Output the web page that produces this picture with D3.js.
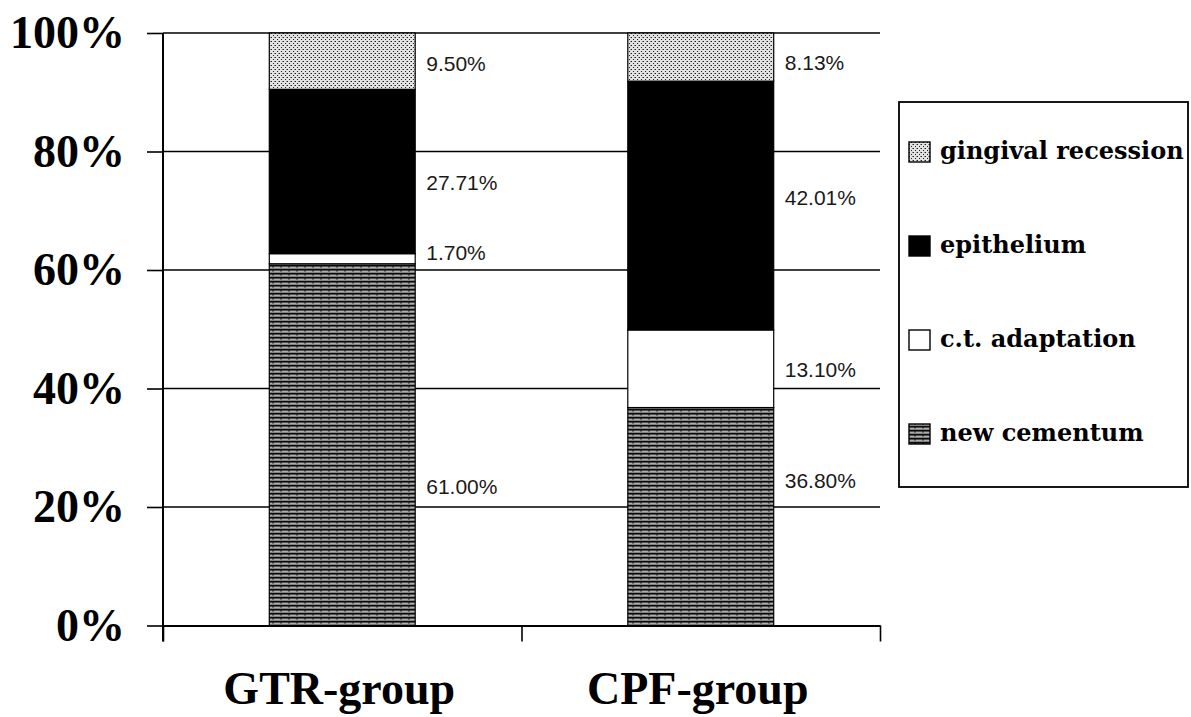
<!DOCTYPE html>
<html>
<head>
<meta charset="utf-8">
<script src="https://cdnjs.cloudflare.com/ajax/libs/d3/7.8.5/d3.min.js"></script>
<style>
  body { margin: 0; background: #fff; }
  .tick-label { font-family: 'Liberation Serif', 'Times New Roman', serif; font-weight: bold; font-size: 46px; fill: #000; }
  .value-label { font-family: 'Liberation Sans', Arial, sans-serif; font-size: 21px; fill: #1a1a1a; }
  .legend-label { font-family: 'DejaVu Serif', serif; font-weight: bold; font-size: 24px; fill: #000; }
</style>
</head>
<body>
<div id="chart"></div>
<script>
// data
const groups = ['GTR-group', 'CPF-group'];
const seriesNames = ['new cementum', 'c.t. adaptation', 'epithelium', 'gingival recession'];
const newCementum = [61.00, 36.80];
const ctAdaptation = [1.70, 13.10];
const epithelium = [27.71, 42.01];
const gingivalRecession = [9.50, 8.13];
const yTicks = [0, 0.2, 0.4, 0.6, 0.8, 1];

const rows = groups.map((g, i) => ({
    group: g,
    'new cementum': newCementum[i],
    'c.t. adaptation': ctAdaptation[i],
    'epithelium': epithelium[i],
    'gingival recession': gingivalRecession[i]
}));

// canvas
const svgWidth = 1191;
const svgHeight = 717;
const margin = {top: 33, left: 163};
const width = 717;
const height = 592.5;

const svg = d3.select('#chart').append('svg')
    .attr('width', svgWidth).attr('height', svgHeight);

// fill patterns, roughly like the printed hatching
const defs = svg.append('defs');

const dots = defs.append('pattern').attr('id', 'pat-gingival')
    .attr('width', 4).attr('height', 4).attr('patternUnits', 'userSpaceOnUse');
dots.append('rect').attr('width', 4).attr('height', 4).attr('fill', '#e2e2e2');
dots.append('rect').attr('x', 0).attr('y', 0).attr('width', 1).attr('height', 1).attr('fill', '#222');
dots.append('rect').attr('x', 2).attr('y', 2).attr('width', 1).attr('height', 1).attr('fill', '#222');
dots.append('rect').attr('x', 3).attr('y', 0).attr('width', 1).attr('height', 1).attr('fill', '#888');

const stripes = defs.append('pattern').attr('id', 'pat-cementum')
    .attr('width', 8).attr('height', 4).attr('patternUnits', 'userSpaceOnUse');
stripes.append('rect').attr('width', 8).attr('height', 4).attr('fill', '#6f6f6f');
stripes.append('rect').attr('y', 0).attr('width', 8).attr('height', 1.3).attr('fill', '#0a0a0a');
stripes.append('rect').attr('y', 2.4).attr('width', 8).attr('height', 0.8).attr('fill', '#d8d8d8');
stripes.append('rect').attr('x', 5).attr('y', 1.3).attr('width', 2).attr('height', 1.1).attr('fill', '#222');

const fills = {
    'new cementum': 'url(#pat-cementum)',
    'c.t. adaptation': '#fff',
    'epithelium': '#000',
    'gingival recession': 'url(#pat-gingival)'
};

const chart = svg.append('g').attr('transform', `translate(${margin.left}, ${margin.top})`);

// scales
const x = d3.scaleBand().domain(groups).range([0, width])
    .paddingInner(0.593).paddingOuter(0.2965);
const xEdges = d3.scaleLinear().domain([0, groups.length]).range([0, width]);
const y = d3.scaleLinear().domain([0, 1]).range([height, 0]);

const stacked = d3.stack().keys(seriesNames).offset(d3.stackOffsetExpand)(rows);

// gridlines
chart.append('g').selectAll('line')
    .data(yTicks.filter(d => d > 0)).enter()
    .append('line')
    .attr('x1', 0).attr('x2', width)
    .attr('y1', d => y(d)).attr('y2', d => y(d))
    .attr('stroke', '#000').attr('stroke-width', 1.6);

// bars
const layers = chart.append('g').selectAll('g')
    .data(stacked).enter()
    .append('g')
    .attr('fill', d => fills[d.key]);

layers.selectAll('rect')
    .data(d => d).enter()
    .append('rect')
    .attr('x', d => x(d.data.group))
    .attr('width', x.bandwidth())
    .attr('y', d => y(d[1]))
    .attr('height', d => y(d[0]) - y(d[1]))
    .attr('stroke', '#000').attr('stroke-width', 1.2);

// value labels beside the bars, a few nudged like in the original
const nudge = {
    'GTR-group|new cementum': 42, 'GTR-group|c.t. adaptation': -6,
    'GTR-group|epithelium': 11, 'GTR-group|gingival recession': 2,
    'CPF-group|new cementum': -36, 'CPF-group|c.t. adaptation': 1,
    'CPF-group|epithelium': -8, 'CPF-group|gingival recession': 5
};
stacked.forEach(layer => {
    chart.append('g').selectAll('text')
        .data(layer).enter()
        .append('text')
        .attr('class', 'value-label')
        .attr('x', d => x(d.data.group) + x.bandwidth() + 11)
        .attr('y', d => (y(d[0]) + y(d[1])) / 2 + nudge[d.data.group + '|' + layer.key])
        .attr('dy', '0.36em')
        .text(d => d.data[layer.key].toFixed(2) + '%');
});

// y axis
const yAxis = chart.append('g')
    .call(d3.axisLeft(y).tickValues(yTicks).tickSize(16).tickSizeOuter(0)
        .tickPadding(22).tickFormat(d3.format('.0%')));
yAxis.select('.domain').remove();
yAxis.selectAll('.tick line').attr('stroke', '#000').attr('stroke-width', 1.6);
yAxis.selectAll('.tick text').attr('class', 'tick-label').attr('font-size', null).attr('font-family', null);
chart.append('line')
    .attr('x1', 0).attr('x2', 0).attr('y1', y(1)).attr('y2', height + 16)
    .attr('stroke', '#000').attr('stroke-width', 2);

// x axis, ticks on the category edges
const xAxis = chart.append('g')
    .attr('transform', `translate(0, ${height})`)
    .call(d3.axisBottom(xEdges).tickValues(d3.range(groups.length + 1))
        .tickSize(16).tickSizeOuter(0).tickFormat(''));
xAxis.select('.domain').attr('stroke', '#000').attr('stroke-width', 2);
xAxis.selectAll('.tick line').attr('stroke', '#000').attr('stroke-width', 1.6);

chart.append('g').selectAll('text')
    .data(groups).enter()
    .append('text')
    .attr('class', 'tick-label')
    .attr('text-anchor', 'middle')
    .attr('x', d => x(d) + x.bandwidth() / 2 - 3)
    .attr('y', 671)
    .text(d => d);

// legend
const legend = svg.append('g').attr('transform', 'translate(899, 102)');
legend.append('rect')
    .attr('width', 289).attr('height', 385)
    .attr('fill', '#fff').attr('stroke', '#000').attr('stroke-width', 1.8);

const legendItems = legend.selectAll('g.item')
    .data(seriesNames.slice().reverse()).enter()
    .append('g')
    .attr('class', 'item')
    .attr('transform', (d, i) => `translate(10, ${50 + i * 94})`);

legendItems.append('rect')
    .attr('x', 0).attr('y', -10)
    .attr('width', 21).attr('height', 20)
    .attr('fill', d => fills[d])
    .attr('stroke', '#000').attr('stroke-width', 1.4);

legendItems.append('text')
    .attr('class', 'legend-label')
    .attr('x', 31).attr('y', 0).attr('dy', '0.3em')
    .text(d => d);
</script>
</body>
</html>
